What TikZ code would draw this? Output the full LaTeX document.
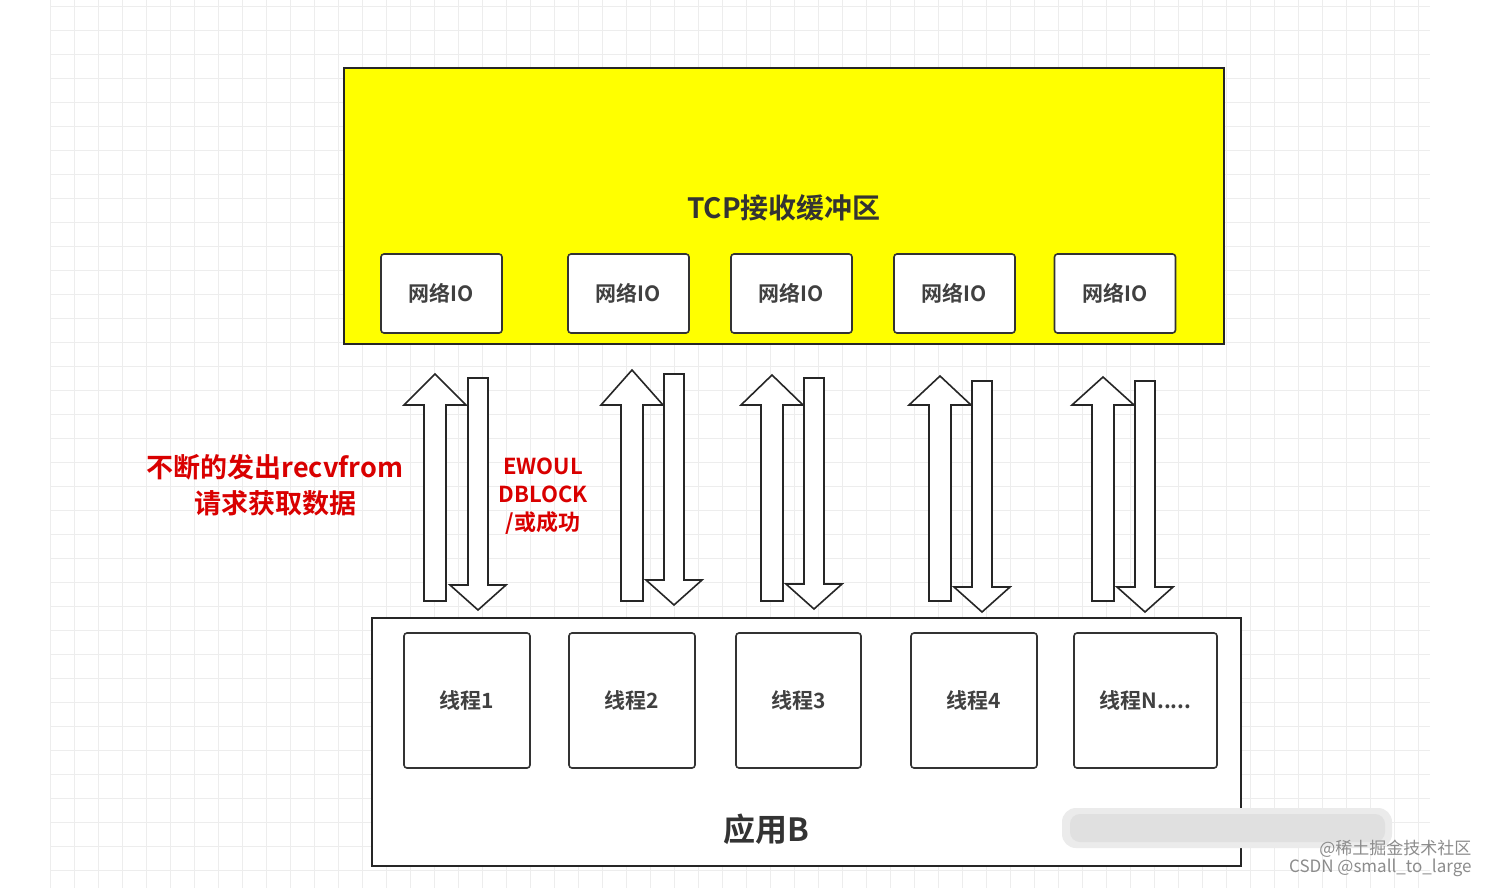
\documentclass[tikz,border=0pt]{standalone}
\usepackage{fontspec}
\setmainfont{Noto Sans CJK SC}
\newfontfamily\cjkb{Noto Sans CJK SC Bold}
\definecolor{ylw}{RGB}{255,255,0}
\begin{document}
\begin{tikzpicture}[x=1pt,y=-1pt,
  iobox/.style={draw=black!80,line width=1.6pt,rounded corners=3pt,fill=white,minimum width=121pt,minimum height=79pt,font=\cjkb\fontsize{21}{24}\selectfont,text=black!75},
  thbox/.style={draw=black!80,line width=1.6pt,rounded corners=3pt,fill=white,minimum height=135pt,font=\cjkb\fontsize{21}{24}\selectfont,text=black!75},
  arr/.style={draw=black!85,line width=1.6pt,fill=white,line join=miter},
  redtxt/.style={text=red!85!black,font=\cjkb,align=center}]
\useasboundingbox (0,0) rectangle (1490,888);
\fill[white] (0,0) rectangle (1490,888);
\foreach \x in {50,74,...,1430} \draw[black!7,line width=0.8pt] (\x,0) -- (\x,888);
\foreach \y in {6,30,...,888} \draw[black!7,line width=0.8pt] (50,\y) -- (1430,\y);
\node[draw=black!85,line width=1.6pt,fill=ylw,minimum width=880pt,minimum height=276pt] (tcp) at (784,206) {};
\node[font=\cjkb\fontsize{28}{30}\selectfont,text=black!80] (tcpl) at (784,208) {TCP接收缓冲区};
\foreach \x/\n in {441.5/1,628.5/2,791.5/3,954.5/4,1115/5}
  \node[iobox] (io\n) at (\x,293.5) {网络IO};
\node[draw=black!85,line width=1.6pt,fill=white,minimum width=869pt,minimum height=248pt] (app) at (806.5,742) {};
\node[thbox,minimum width=126pt] (t1) at (467,700.5) {线程1};
\node[thbox,minimum width=126pt] (t2) at (632,700.5) {线程2};
\node[thbox,minimum width=125pt] (t3) at (798.5,700.5) {线程3};
\node[thbox,minimum width=126pt] (t4) at (974,700.5) {线程4};
\node[thbox,minimum width=143pt] (t5) at (1145.5,700.5) {线程N.....};
\node[font=\cjkb\fontsize{32}{34}\selectfont,text=black!80] (appl) at (766,829) {应用B};
\foreach \u/\d/\ut/\dt/\dtop in {435/478/374/610/378, 632/674/370/605/374, 772/814/375/609/378, 940/982/376/612/381, 1103/1145/377/612/381}{
  \draw[arr] (\u-11,601) -- (\u-11,405) -- (\u-31,405) -- (\u,\ut) -- (\u+31,405) -- (\u+11,405) -- (\u+11,601) -- cycle;
  \draw[arr] (\d-10,\dtop) -- (\d-10,\dt-25) -- (\d-28,\dt-25) -- (\d,\dt) -- (\d+28,\dt-25) -- (\d+10,\dt-25) -- (\d+10,\dtop) -- cycle;
}
\node[redtxt,font=\cjkb\fontsize{27}{36}\selectfont] (req) at (275,485) {不断的发出recvfrom\\请求获取数据};
\node[redtxt,font=\cjkb\fontsize{22}{28}\selectfont] (ew) at (543,496) {EWOUL\\DBLOCK\\/或成功};
\fill[black!8,rounded corners=14pt] (1062,808) rectangle (1392,848);
\fill[black!12,rounded corners=10pt] (1070,814) rectangle (1385,842);
\node[text=black!45,font=\fontsize{17}{18}\selectfont,align=right,anchor=south east] (wm) at (1475,880) {@稀土掘金技术社区\\CSDN @small\_to\_large};
\end{tikzpicture}
\end{document}
